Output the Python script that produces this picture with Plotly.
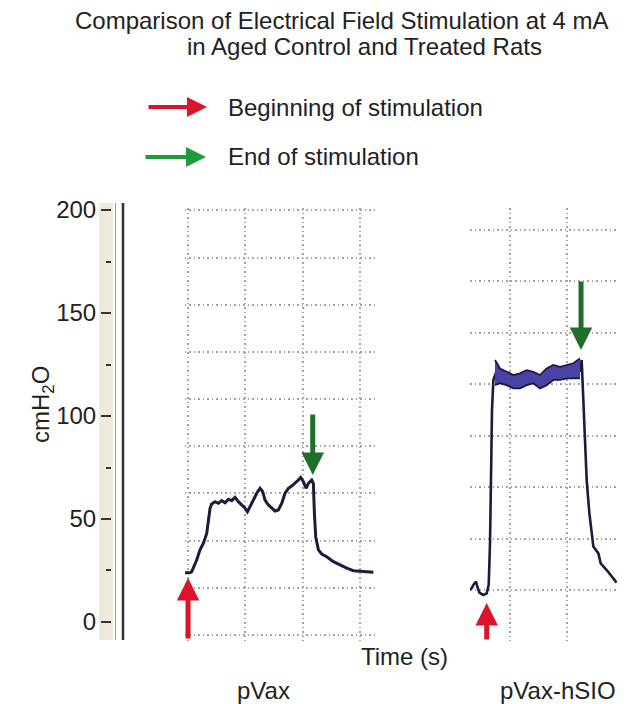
import plotly.graph_objects as go

# page body has an 8px margin: figure is sized to fit the 638x704 window
OFF = 8
W, H = 638 - OFF, 704 - OFF

# ---------------- data ----------------
title_lines = ["Comparison of Electrical Field Stimulation at 4 mA",
               "in Aged Control and Treated Rats"]
legend_labels = ["Beginning of stimulation", "End of stimulation"]
panel_labels = ["pVax", "pVax-hSIO"]
y_ticks = [0, 50, 100, 150, 200]

# pVax trace (time in grid units, pressure cmH2O)
pvax_t = [-0.052, 0.035, 0.064, 0.093, 0.151, 0.209, 0.268, 0.326, 0.355, 0.384,
          0.413, 0.471, 0.529, 0.588, 0.646, 0.704, 0.762, 0.820, 0.878, 0.937,
          0.995, 1.036, 1.082, 1.140, 1.198, 1.257, 1.303, 1.344, 1.402, 1.460,
          1.518, 1.576, 1.635, 1.693, 1.751, 1.809, 1.867, 1.925, 1.966, 2.013,
          2.059, 2.100, 2.158, 2.187, 2.205, 2.228, 2.275, 2.333, 2.420, 2.537,
          2.653, 2.769, 2.886, 3.002, 3.118, 3.234]
pvax_v = [23.9, 23.9, 24.4, 26.1, 30.1, 35.0, 38.2, 43.0, 49.5, 55.2,
          57.3, 58.4, 57.6, 58.9, 57.9, 59.6, 58.9, 60.5, 58.4, 56.8,
          55.2, 53.5, 56.3, 59.2, 62.5, 64.9, 63.3, 59.2, 56.8, 55.2,
          53.9, 54.4, 57.6, 62.5, 64.9, 66.0, 67.3, 68.9, 70.2, 68.1,
          64.9, 67.3, 68.9, 67.3, 52.8, 41.4, 35.0, 33.0, 31.7, 29.3,
          27.7, 26.1, 24.9, 24.6, 24.3, 24.1]

# pVax-hSIO trace
hsio_t = [0.269, 0.327, 0.357, 0.404, 0.427, 0.462, 0.532, 0.591, 0.626, 0.649,
          0.667, 0.684, 0.708, 0.754, 0.813, 1.2, 1.6, 2.0, 2.228, 2.257,
          2.275, 2.287, 2.316, 2.345, 2.392, 2.462, 2.550, 2.591, 2.696, 2.784,
          2.871]
hsio_v = [15.5, 16.3, 18.0, 19.6, 17.1, 14.2, 13.1, 13.9, 18.0, 38.2,
          70.5, 102.9, 117.5, 121.0, 120.0, 118.0, 119.0, 121.0, 122.0, 127.2,
          114.2, 101.3, 88.3, 68.9, 52.8, 36.6, 33.3, 28.5, 25.2, 22.0,
          19.1]
# noisy plateau band of pVax-hSIO
band_t = [0.737, 0.825, 0.942, 1.058, 1.175, 1.292, 1.409, 1.526, 1.643, 1.760,
          1.877, 1.994, 2.111, 2.228]
band_hi = [127.2, 123.1, 121.5, 119.9, 120.7, 122.3, 121.5, 119.9, 123.1, 124.8,
           123.9, 124.8, 125.6, 128.0]
band_lo = [115.0, 115.9, 115.0, 113.4, 113.4, 115.0, 115.9, 113.4, 115.0, 117.5,
           117.5, 118.3, 118.3, 118.3]

# stimulation markers: (time, pressure at arrow tip)
pvax_start = (0.0, 21.4)
pvax_end = (2.176, 71.4)
hsio_start = (0.591, 9.2)
hsio_end = (2.246, 132.0)

# ---------------- helpers (window pixel -> paper fraction) ----------------
def px(x):
    return (x - OFF) / W

def py(y):
    return 1 - (y - OFF) / H

FONT = "Liberation Sans, Arial, sans-serif"
TRACE = "#1b1b3a"
RED = "#d9142b"
DGREEN = "#1f6e2a"
LGREEN = "#1f9a3c"
GRID = "#a4a4a4"
TXT = "#222"
FS = 24

ydom = [py(640.5), py(208)]
yrng = [-9, 201]

fig = go.Figure()

# dummy for the main axis
fig.add_trace(go.Scatter(x=[], y=[], xaxis="x", yaxis="y", showlegend=False))

fig.add_trace(go.Scatter(x=pvax_t, y=pvax_v, xaxis="x2", yaxis="y2", mode="lines",
                         line=dict(color=TRACE, width=3), showlegend=False))
fig.add_trace(go.Scatter(x=hsio_t, y=hsio_v, xaxis="x3", yaxis="y3", mode="lines",
                         line=dict(color=TRACE, width=2.6), showlegend=False))
fig.add_trace(go.Scatter(x=band_t, y=band_hi, xaxis="x3", yaxis="y3", mode="lines",
                         line=dict(color="#1b1840", width=1.8), showlegend=False))
fig.add_trace(go.Scatter(x=band_t, y=band_lo, xaxis="x3", yaxis="y3", mode="lines",
                         fill="tonexty", fillcolor="#4a43a6",
                         line=dict(color="#1b1840", width=1.8), showlegend=False))

grid_common = dict(showgrid=True, gridcolor=GRID, griddash="1.5px,3px", gridwidth=1.5,
                   showticklabels=False, ticks="", zeroline=False, showline=False,
                   automargin=False)

fig.update_layout(
    width=W, height=H, autosize=False,
    margin=dict(l=0, r=0, t=0, b=0, pad=0, autoexpand=False),
    paper_bgcolor="white", plot_bgcolor="rgba(0,0,0,0)",
    font=dict(family=FONT, color=TXT),
    showlegend=False,
    xaxis=dict(domain=[px(112), px(180)], range=[0, 1], visible=False, anchor="y",
               automargin=False),
    yaxis=dict(domain=ydom, range=yrng, anchor="x", tickvals=y_ticks,
               ticks="outside", ticklen=10, tickwidth=2, tickcolor="#333",
               tickfont=dict(size=FS, color=TXT), showgrid=False,
               zeroline=False, showline=False, automargin=False,
               minor=dict(tickvals=[25, 75, 125, 175], ticks="outside",
                          ticklen=5, tickwidth=2, tickcolor="#333")),
    xaxis2=dict(domain=[px(184.6), px(376)], range=[-0.06, 3.28], anchor="y2",
                tick0=0, dtick=1, **grid_common),
    yaxis2=dict(domain=ydom, range=yrng, anchor="x2", tick0=16.6, dtick=22.9,
                **grid_common),
    xaxis3=dict(domain=[px(470), px(617)], range=[0.298, 2.877], anchor="y3",
                tick0=0, dtick=1, **grid_common),
    yaxis3=dict(domain=ydom, range=yrng, anchor="x3", tick0=15.5, dtick=25,
                **grid_common),
)

# y-axis decoration: beige band and double rule
fig.add_shape(type="rect", xref="paper", yref="paper", x0=px(99), x1=px(113),
              y0=py(640), y1=py(203), fillcolor="#efebdc", line=dict(width=0),
              layer="below")
fig.add_shape(type="line", xref="paper", yref="paper", x0=px(115.5), x1=px(115.5),
              y0=py(640), y1=py(203), line=dict(color="#999", width=1))
fig.add_shape(type="line", xref="paper", yref="paper", x0=px(123), x1=px(123),
              y0=py(640), y1=py(203), line=dict(color="#333", width=2.5))

def label(x, y, text, xanchor="center", angle=0, size=FS):
    fig.add_annotation(xref="paper", yref="paper", x=px(x), y=py(y), text=text,
                       xanchor=xanchor, yanchor="middle", textangle=angle,
                       showarrow=False, font=dict(size=size, color=TXT))

# titles / labels
label(73, 20, title_lines[0], "left")
label(185, 47, title_lines[1], "left")
label(226, 107, legend_labels[0], "left")
label(226, 157, legend_labels[1], "left")
label(42, 405, "cmH<sub>2</sub>O", angle=-90)
label(404, 656, "Time (s)")
label(263, 690, panel_labels[0])
label(558, 690, panel_labels[1])

# legend arrows
fig.add_annotation(xref="paper", yref="paper", x=px(207), y=py(107), ax=-60, ay=0,
                   text="", showarrow=True, arrowhead=2, arrowsize=1, arrowwidth=4,
                   arrowcolor=RED)
fig.add_annotation(xref="paper", yref="paper", x=px(206), y=py(157), ax=-62, ay=0,
                   text="", showarrow=True, arrowhead=2, arrowsize=1, arrowwidth=4,
                   arrowcolor=LGREEN)

# stimulation arrows
for (t, v), xr, yr, col, ay in [
    (pvax_start, "x2", "y2", RED, 62),
    (hsio_start, "x3", "y3", RED, 38),
    (pvax_end, "x2", "y2", DGREEN, -62),
    (hsio_end, "x3", "y3", DGREEN, -70),
]:
    fig.add_annotation(x=t, y=v, xref=xr, yref=yr, ax=0, ay=ay, text="",
                       showarrow=True, arrowhead=2, arrowsize=0.9, arrowwidth=5,
                       arrowcolor=col)

fig.write_html("out.html")
